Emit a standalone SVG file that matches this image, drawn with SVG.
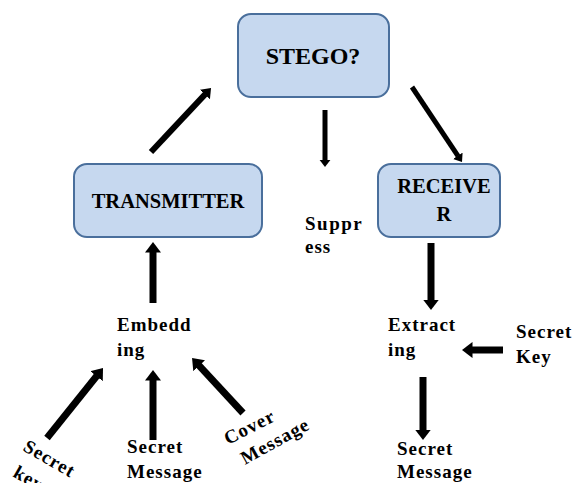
<svg xmlns="http://www.w3.org/2000/svg" width="572" height="483" viewBox="0 0 572 483">
<defs>
<style>
.box{fill:#c6d8ef;stroke:#4a6f9c;stroke-width:2}
.t{font-family:"Liberation Serif","Times New Roman",serif;font-weight:bold;fill:#000}
.lbl{font-size:19px;letter-spacing:1px}
.arr{stroke:#000;fill:none;marker-end:url(#ah)}
</style>
<marker id="ah" viewBox="0 0 15 23" markerUnits="strokeWidth" markerWidth="1.5" markerHeight="2.3" refX="1" refY="11.5" orient="auto" preserveAspectRatio="none">
<path d="M0,0 L15,11.5 L0,23 z" fill="#000"/>
</marker>
</defs>
<rect width="572" height="483" fill="#fff"/>
<g id="stego">
<rect class="box" x="238" y="14" width="151" height="83" rx="13"/>
<text class="t" x="313" y="64" font-size="24" text-anchor="middle">STEGO?</text>
</g>
<g id="transmitter">
<rect class="box" x="74" y="164" width="188" height="73" rx="13"/>
<text class="t" x="168" y="208" font-size="20.5" text-anchor="middle">TRANSMITTER</text>
</g>
<g id="receiver">
<rect class="box" x="378" y="164" width="122" height="73" rx="13"/>
<text class="t" x="444" y="193" font-size="20.5" text-anchor="middle">RECEIVE</text>
<text class="t" x="444" y="221" font-size="20.5" text-anchor="middle">R</text>
</g>
<g id="suppress">
<text class="t lbl" x="305" y="230" style="letter-spacing:1.5px">Suppr</text>
<text class="t lbl" x="305" y="253">ess</text>
</g>
<g id="embedding">
<text class="t lbl" x="117" y="331">Embedd</text>
<text class="t lbl" x="117" y="356">ing</text>
</g>
<g id="extracting">
<text class="t lbl" x="388" y="331">Extract</text>
<text class="t lbl" x="388" y="356">ing</text>
</g>
<g id="secret-key-right">
<text class="t lbl" x="516" y="338">Secret</text>
<text class="t lbl" x="516" y="363">Key</text>
</g>
<g id="secret-message-out">
<text class="t lbl" x="397" y="455">Secret</text>
<text class="t lbl" x="397" y="478">Message</text>
</g>
<g id="secret-key-left">
<text class="t lbl" transform="translate(22,450) rotate(30)">Secret</text>
<text class="t lbl" transform="translate(12,476) rotate(30)">key</text>
</g>
<g id="secret-message-in">
<text class="t lbl" x="127" y="453">Secret</text>
<text class="t lbl" x="127" y="478">Message</text>
</g>
<g id="cover-message">
<text class="t lbl" transform="translate(228,445) rotate(-27)">Cover</text>
<text class="t lbl" transform="translate(245,465) rotate(-29)">Message</text>
</g>
<g id="connectors">
<path class="arr" stroke-width="6" d="M151,152 L205.3,94.1"/>
<path class="arr" stroke-width="5" d="M325,110 L325,160"/>
<path class="arr" stroke-width="5" d="M412,87 L458.1,156.2"/>
<path class="arr" stroke-width="7" d="M153,303 L153,251.8"/>
<path class="arr" stroke-width="7" d="M431,243 L431,300.2"/>
<path class="arr" stroke-width="7" d="M47,438 L96.9,375.7"/>
<path class="arr" stroke-width="7" d="M153,440 L153,379.8"/>
<path class="arr" stroke-width="7" d="M243,413 L198.7,365.2"/>
<path class="arr" stroke-width="7" d="M503,350 L471.8,350"/>
<path class="arr" stroke-width="7" d="M423,377 L423,430.2"/>
</g>
</svg>
